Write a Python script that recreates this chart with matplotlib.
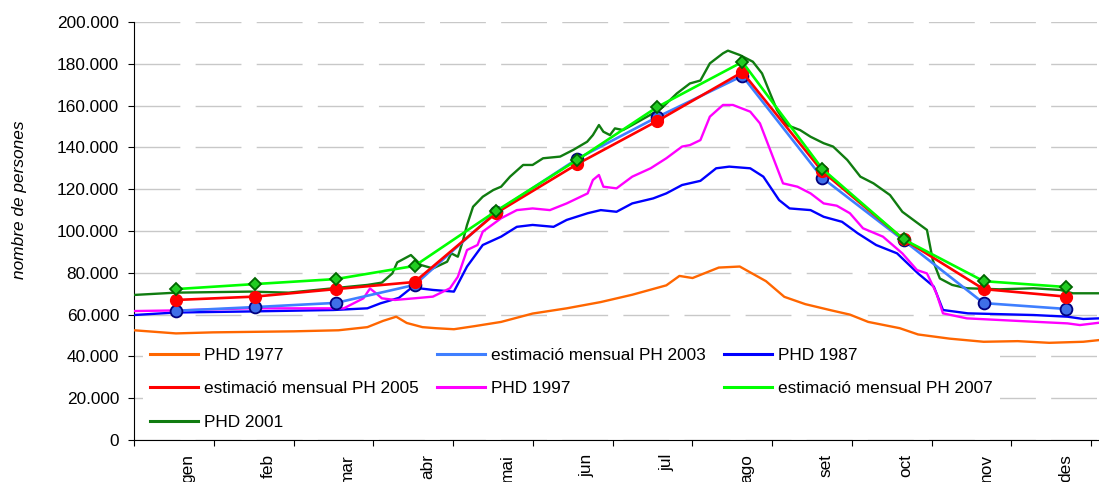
import matplotlib
matplotlib.use("Agg")
import matplotlib.pyplot as plt
from matplotlib.lines import Line2D
from matplotlib.ticker import FuncFormatter
import numpy as np

plt.rcParams['font.family'] = ['Liberation Sans', 'DejaVu Sans']

mesos = ["gen", "feb", "mar", "abr", "mai", "jun", "jul", "ago", "set", "oct", "nov", "des"]

# series diaries (dia de l'any, persones)
dies_1977 = [0, 16, 30, 61, 78, 89, 95, 100, 104, 110, 115, 122, 130, 140, 152, 165, 178, 190,
             203, 208, 213, 223, 231, 241, 248, 256, 266, 273, 280, 292, 299, 311, 324, 337, 349, 362, 368]
phd_1977 = [52500, 51000, 51500, 52000, 52500, 54000, 57000, 59000, 56000, 54000, 53500, 53000, 54500,
            56500, 60500, 63000, 66000, 69500, 74000, 78500, 77500, 82500, 83000, 76000, 68500, 65000,
            62000, 60000, 56500, 53500, 50500, 48500, 47000, 47300, 46500, 47000, 47800]

dies_1987 = [0, 16, 44, 76, 89, 94, 101, 106, 114, 122, 127, 133, 140, 146, 152, 160, 165, 173, 178,
             184, 190, 198, 203, 209, 216, 222, 227, 235, 240, 246, 250, 258, 263, 270, 276, 283, 291,
             299, 305, 308.5, 318, 343, 356, 362, 368]
phd_1987 = [59800, 61000, 61500, 62200, 63000, 65400, 68000, 73000, 71800, 71000, 83000, 93300, 97300,
            102000, 102900, 102000, 105300, 108500, 110000, 109200, 113200, 115600, 118000, 122000,
            124000, 130000, 130800, 130000, 126000, 114800, 110800, 110000, 106800, 104400, 98900,
            93300, 89300, 79700, 73400, 62200, 60600, 59800, 59000, 57900, 58200]

dies_1997 = [0, 16, 44, 76, 80, 87.5, 90, 92.5, 94.5, 99.5, 107, 114, 120.5, 123.5, 127, 131, 133, 140,
             146, 152, 158.6, 165, 173, 175, 177.3, 179, 184, 190, 197, 203, 209, 212, 216, 219.6, 224.6,
             228.4, 235, 238.7, 242.6, 247.5, 253, 258, 263, 268, 273, 278, 285.6, 293, 298.6, 302.4,
             306, 308.5, 317.6, 343, 356, 360.7, 368]
phd_1997 = [61700, 62000, 63000, 63000, 63000, 67800, 72500, 70000, 67800, 67000, 67800, 68600, 72600,
            78100, 90900, 93300, 99700, 106100, 110000, 110800, 110000, 113200, 118000, 124400, 126800,
            121200, 120400, 126000, 130000, 134800, 140400, 141100, 143500, 154700, 160300, 160300,
            157100, 151500, 138800, 122800, 121200, 118000, 113200, 112100, 108500, 101300, 97300,
            89300, 81300, 79700, 70200, 60600, 58200, 56600, 55800, 55000, 56100]

dies_2001 = [0, 16, 44, 59, 76, 89, 94.5, 98.5, 100.4, 105.6, 109.5, 114, 119.4, 121, 123.5, 125.5, 127,
             129.3, 133, 137, 140, 143.4, 148.4, 152, 156, 162.5, 167.5, 172.8, 175, 177.3, 179, 181.5,
             183.4, 186.5, 190, 196.8, 201.8, 207, 212, 216, 219.6, 224.6, 226.5, 231, 236, 239.5,
             242.6, 245.2, 249, 254, 258, 263, 266.6, 272, 277, 282, 288.3, 293, 298.6, 302.4, 304.6,
             307.3, 312, 317.6, 330, 343, 353.2, 358, 368]
phd_2001 = [69400, 70500, 71000, 70500, 72600, 74200, 75300, 79700, 85000, 88500, 83700, 82100, 85300,
            89300, 87700, 95700, 102900, 111600, 116400, 119600, 121200, 126000, 131600, 131600,
            134800, 135600, 138800, 142700, 145900, 150700, 147500, 145900, 149100, 148300, 150700,
            155500, 159500, 165800, 170600, 172000, 180200, 185000, 186300, 184200, 181000, 175400,
            165800, 157900, 150700, 148300, 145100, 142000, 140400, 134000, 126000, 122800, 117200,
            109200, 104000, 100500, 86100, 77300, 74200, 72600, 72100, 72600, 71800, 70200, 70200]

# estimacions mensuals
dies_mes = [16, 46, 77, 107, 138, 169, 199.5, 232, 262.5, 293.5, 324, 355.5]
ph_2003 = [61800, 63600, 65600, 74200, 109000, 134500, 154500, 174200, 125400, 95500, 65500, 62700]
ph_2005 = [67000, 68600, 72200, 75600, 108500, 132000, 152600, 176000, 128500, 96000, 72200, 68600]
ph_2007 = [72200, 74600, 77000, 83300, 109500, 134000, 159300, 180900, 129700, 96000, 76000, 73200]

fs = 12.4
fig = plt.figure(figsize=(10.99, 4.82), dpi=100)
ax = fig.add_axes([134 / 1099, 42 / 482, 965 / 1099, 418 / 482])

lw_d = 1.7
lw_m = 1.9
ax.plot(dies_1977, phd_1977, color='#FF6600', lw=lw_d, zorder=3)
ax.plot(dies_mes, ph_2003, color='#3F7FFF', lw=lw_m, marker='o', ms=8.5,
        mfc='#3F6FE8', mec='#000080', mew=1.3, zorder=4)
ax.plot(dies_1987, phd_1987, color='#0000FF', lw=lw_d, zorder=3)
ax.plot(dies_mes, ph_2005, color='#FF0000', lw=lw_m, marker='o', ms=8.5,
        mfc='#FF0000', mec='#FF0000', zorder=5)
ax.plot(dies_1997, phd_1997, color='#FF00FF', lw=lw_d, zorder=3)
ax.plot(dies_mes, ph_2007, color='#00FF00', lw=lw_m, marker='D', ms=6.5,
        mfc='#22CC22', mec='#006600', mew=1.3, zorder=6)
ax.plot(dies_2001, phd_2001, color='#107C10', lw=lw_d, zorder=3)

ax.set_xlim(0, 368)
ax.set_ylim(0, 200000)
ax.set_yticks(np.arange(0, 200001, 20000))
ax.yaxis.set_major_formatter(FuncFormatter(lambda v, p: f"{v:,.0f}".replace(",", ".")))
ax.grid(axis='y', color='#C8C8C8', lw=1, linestyle=(0, (33, 11)), zorder=1)
ax.set_axisbelow(True)

ax.set_xticks(np.arange(13) * 365 / 12)
ax.set_xticks((np.arange(12) + 0.68) * 365 / 12, minor=True)
ax.set_xticklabels([])
ax.set_xticklabels(mesos, minor=True, rotation=90, fontsize=fs)
ax.tick_params(axis='x', which='major', length=4.5, width=0.8, direction='out')
ax.tick_params(axis='x', which='minor', length=0, pad=10)
ax.tick_params(axis='y', length=4.3, width=0.8, pad=6.5, labelsize=fs)

for s in ['top', 'right']:
    ax.spines[s].set_visible(False)
for s in ['left', 'bottom']:
    ax.spines[s].set_linewidth(0.8)

fig.text(20 / 1099, 1 - 200 / 482, 'nombre de persones', rotation=90, style='italic',
         fontsize=fs, ha='center', va='center')

# llegenda ordenada per files (omple per columnes)
colors = {'PHD 1977': '#FF6600', 'estimació mensual PH 2003': '#3F7FFF', 'PHD 1987': '#0000FF',
          'estimació mensual PH 2005': '#FF0000', 'PHD 1997': '#FF00FF',
          'estimació mensual PH 2007': '#00FF00', 'PHD 2001': '#107C10'}
ordre = ['PHD 1977', 'estimació mensual PH 2005', 'PHD 2001',
         'estimació mensual PH 2003', 'PHD 1997',
         'PHD 1987', 'estimació mensual PH 2007']
handles = [Line2D([], [], color=colors[k], lw=2.2) for k in ordre]
leg = ax.legend(handles, ordre, ncol=3, loc='upper left',
                bbox_to_anchor=(143 / 1099, 1 - 341 / 482), bbox_transform=fig.transFigure,
                frameon=True, facecolor='white', edgecolor='none', framealpha=1, fancybox=False,
                handlelength=2.8, handletextpad=0.35, columnspacing=1.05, labelspacing=1.06,
                borderpad=0.4, borderaxespad=0, fontsize=fs)
leg.set_zorder(2)

fig.savefig('out.png', dpi=100)
